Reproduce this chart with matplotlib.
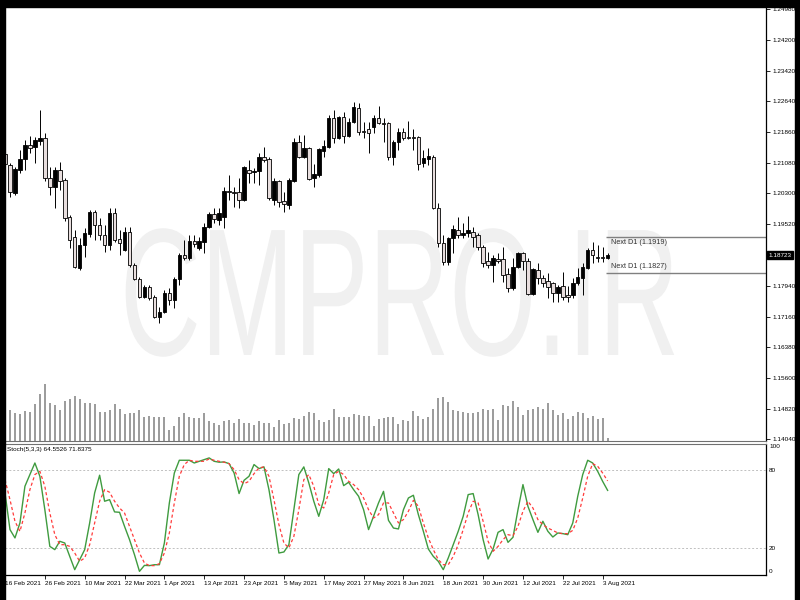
import numpy as np
import pandas as pd
import matplotlib
matplotlib.use('Agg')
import matplotlib.pyplot as plt
from matplotlib import patheffects
from matplotlib.patches import Rectangle
from matplotlib.transforms import Affine2D

plt.rcParams['font.family'] = ['Liberation Sans', 'DejaVu Sans']

# EURUSD diario, 16 Feb 2021 - 4 Aug 2021
apertura = [1.2130, 1.2102, 1.2031, 1.2089, 1.2117, 1.2153, 1.2148, 1.2163, 1.2171, 1.2069,
            1.2046, 1.2089, 1.2064, 1.1970, 1.1919, 1.1840, 1.1898, 1.1926, 1.1982, 1.1949,
            1.1924, 1.1898, 1.1980, 1.1914, 1.1886, 1.1931, 1.1848, 1.1812, 1.1766, 1.1792,
            1.1766, 1.1715, 1.1728, 1.1776, 1.1758, 1.1812, 1.1873, 1.1865, 1.1909, 1.1891,
            1.1906, 1.1944, 1.1977, 1.1962, 1.1970, 1.2036, 1.2033, 1.2033, 1.2013, 1.2089,
            1.2084, 1.2087, 1.2122, 1.2117, 1.2013, 1.2061, 1.2010, 1.2000, 1.2061, 1.2160,
            1.2122, 1.2145, 1.2069, 1.2076, 1.2138, 1.2148, 1.2221, 1.2171, 1.2224, 1.2176,
            1.2211, 1.2247, 1.2188, 1.2193, 1.2199, 1.2221, 1.2209, 1.2209, 1.2122, 1.2160,
            1.2186, 1.2173, 1.2173, 1.2173, 1.2107, 1.2117, 1.2122, 1.1993, 1.1903, 1.1855,
            1.1916, 1.1937, 1.1924, 1.1929, 1.1931, 1.1924, 1.1893, 1.1858, 1.1848, 1.1863,
            1.1863, 1.1825, 1.1789, 1.1842, 1.1878, 1.1858, 1.1774, 1.1835, 1.1814, 1.1807,
            1.1802, 1.1776, 1.1794, 1.1771, 1.1771, 1.1802, 1.1814, 1.1840, 1.1886, 1.1868,
            1.1868, 1.1865]
maximo = [1.2165, 1.2107, 1.2097, 1.2140, 1.2165, 1.2176, 1.2173, 1.2242, 1.2183, 1.2097,
          1.2097, 1.2110, 1.2069, 1.1975, 1.1937, 1.1916, 1.1942, 1.1987, 1.1987, 1.1967,
          1.1949, 1.1993, 1.1993, 1.1937, 1.1944, 1.1944, 1.1853, 1.1817, 1.1797, 1.1797,
          1.1771, 1.1741, 1.1784, 1.1789, 1.1817, 1.1878, 1.1911, 1.1924, 1.1924, 1.1919,
          1.1954, 1.1982, 1.1993, 1.1993, 1.2046, 1.2076, 1.2046, 1.2069, 1.2099, 1.2115,
          1.2094, 1.2132, 1.2148, 1.2122, 1.2069, 1.2064, 1.2033, 1.2069, 1.2171, 1.2178,
          1.2178, 1.2148, 1.2104, 1.2145, 1.2165, 1.2229, 1.2242, 1.2227, 1.2237, 1.2221,
          1.2262, 1.2260, 1.2211, 1.2211, 1.2229, 1.2252, 1.2221, 1.2211, 1.2165, 1.2196,
          1.2196, 1.2214, 1.2193, 1.2176, 1.2140, 1.2145, 1.2127, 1.2005, 1.1924, 1.1919,
          1.1949, 1.1970, 1.1954, 1.1972, 1.1944, 1.1929, 1.1898, 1.1881, 1.1873, 1.1878,
          1.1893, 1.1840, 1.1865, 1.1881, 1.1881, 1.1865, 1.1840, 1.1853, 1.1822, 1.1827,
          1.1804, 1.1797, 1.1830, 1.1794, 1.1814, 1.1840, 1.1853, 1.1891, 1.1906, 1.1898,
          1.1893, 1.1878]
minimo = [1.2100, 1.2020, 1.2026, 1.2082, 1.2089, 1.2132, 1.2107, 1.2153, 1.2061, 1.2026,
          1.1993, 1.2038, 1.1959, 1.1891, 1.1840, 1.1835, 1.1868, 1.1919, 1.1911, 1.1911,
          1.1881, 1.1886, 1.1906, 1.1873, 1.1883, 1.1842, 1.1809, 1.1764, 1.1764, 1.1758,
          1.1713, 1.1700, 1.1725, 1.1746, 1.1738, 1.1797, 1.1860, 1.1860, 1.1893, 1.1886,
          1.1878, 1.1942, 1.1954, 1.1949, 1.1942, 1.2013, 1.1995, 1.1993, 1.2010, 1.2056,
          1.2056, 1.2051, 1.2110, 1.2013, 1.2000, 1.1995, 1.1982, 1.1990, 1.2059, 1.2120,
          1.2120, 1.2064, 1.2046, 1.2071, 1.2122, 1.2145, 1.2158, 1.2168, 1.2158, 1.2173,
          1.2209, 1.2178, 1.2171, 1.2132, 1.2183, 1.2206, 1.2160, 1.2115, 1.2102, 1.2140,
          1.2165, 1.2168, 1.2140, 1.2089, 1.2097, 1.2102, 1.1990, 1.1893, 1.1848, 1.1848,
          1.1878, 1.1916, 1.1916, 1.1919, 1.1893, 1.1886, 1.1842, 1.1840, 1.1804, 1.1853,
          1.1804, 1.1779, 1.1784, 1.1840, 1.1835, 1.1771, 1.1771, 1.1799, 1.1792, 1.1764,
          1.1753, 1.1753, 1.1758, 1.1753, 1.1764, 1.1797, 1.1771, 1.1837, 1.1853, 1.1855,
          1.1855, 1.1863]
cierre = [1.2104, 1.2033, 1.2092, 1.2117, 1.2153, 1.2145, 1.2165, 1.2171, 1.2069, 1.2046,
          1.2089, 1.2061, 1.1967, 1.1911, 1.1842, 1.1898, 1.1929, 1.1982, 1.1949, 1.1924,
          1.1898, 1.1980, 1.1911, 1.1903, 1.1931, 1.1848, 1.1812, 1.1766, 1.1792, 1.1764,
          1.1715, 1.1728, 1.1776, 1.1758, 1.1812, 1.1873, 1.1865, 1.1909, 1.1901, 1.1909,
          1.1944, 1.1977, 1.1965, 1.1980, 1.2036, 1.2033, 1.2031, 1.2013, 1.2097, 1.2082,
          1.2087, 1.2122, 1.2115, 1.2018, 1.2061, 1.2008, 1.2003, 1.2064, 1.2160, 1.2122,
          1.2145, 1.2066, 1.2079, 1.2143, 1.2150, 1.2221, 1.2171, 1.2224, 1.2176, 1.2211,
          1.2249, 1.2186, 1.2186, 1.2183, 1.2221, 1.2209, 1.2206, 1.2122, 1.2160, 1.2186,
          1.2171, 1.2171, 1.2171, 1.2104, 1.2120, 1.2125, 1.1993, 1.1903, 1.1855, 1.1916,
          1.1939, 1.1924, 1.1929, 1.1937, 1.1919, 1.1893, 1.1853, 1.1848, 1.1865, 1.1858,
          1.1822, 1.1789, 1.1842, 1.1878, 1.1858, 1.1774, 1.1837, 1.1814, 1.1802, 1.1792,
          1.1776, 1.1792, 1.1766, 1.1766, 1.1802, 1.1817, 1.1842, 1.1886, 1.1873, 1.1865,
          1.1865, 1.18723]
volumen = [60000, 62000, 56000, 54000, 60000, 58000, 74000, 94000, 114000, 76000,
           72000, 62000, 80000, 84000, 90000, 84000, 76000, 76000, 74000, 58000,
           58000, 62000, 74000, 64000, 54000, 56000, 56000, 62000, 48000, 50000,
           48000, 48000, 48000, 22000, 30000, 48000, 56000, 48000, 46000, 46000,
           56000, 40000, 36000, 32000, 40000, 42000, 36000, 44000, 36000, 36000,
           32000, 40000, 36000, 36000, 28000, 42000, 34000, 36000, 46000, 44000,
           50000, 58000, 56000, 42000, 38000, 42000, 64000, 48000, 48000, 48000,
           54000, 52000, 50000, 50000, 30000, 44000, 46000, 48000, 48000, 34000,
           42000, 40000, 60000, 50000, 44000, 48000, 64000, 86000, 88000, 78000,
           62000, 60000, 58000, 56000, 56000, 58000, 64000, 62000, 64000, 42000,
           72000, 70000, 80000, 68000, 52000, 62000, 64000, 68000, 64000, 76000,
           62000, 52000, 56000, 44000, 50000, 58000, 56000, 46000, 50000, 44000,
           46000, 6000]

# Estocastico (5,3,3): linea principal y senal
stoch_k = [62.6, 34.4, 28.0, 39.5, 67.7, 76.7, 85.6, 75.4, 49.7, 21.5,
           19.0, 25.4, 24.1, 13.8, 3.6, 11.3, 19.0, 39.5, 62.6, 76.2,
           56.2, 57.4, 48.0, 47.7, 36.9, 26.7, 15.1, 2.3, 6.9, 6.7,
           7.4, 7.4, 24.1, 54.9, 77.9, 87.7, 87.7, 87.7, 85.6, 86.9,
           88.2, 89.5, 86.9, 86.2, 86.4, 85.1, 77.9, 62.1, 72.3, 75.4,
           84.4, 81.3, 82.6, 65.1, 42.1, 16.4, 17.2, 22.8, 49.7, 76.7,
           82.6, 70.3, 56.2, 44.6, 57.4, 81.3, 77.4, 81.0, 68.2, 70.8,
           65.1, 60.0, 49.7, 34.4, 44.6, 54.9, 63.8, 41.5, 35.6, 34.9,
           49.7, 58.7, 60.8, 45.9, 33.1, 19.5, 13.8, 10.0, 3.6, 12.6,
           22.8, 33.1, 44.6, 61.3, 62.1, 45.9, 26.7, 11.8, 19.5, 32.3,
           34.4, 24.6, 28.5, 49.7, 69.0, 52.3, 42.1, 32.3, 40.8, 33.1,
           28.7, 31.8, 31.3, 30.5, 39.5, 60.0, 76.7, 87.7, 85.6, 79.2,
           71.5, 64.5526]
stoch_d = [72.8, 57.4, 40.8, 33.0, 47.2, 65.1, 76.7, 79.2, 67.7, 47.2,
           30.5, 22.8, 22.8, 21.5, 16.4, 10.0, 12.6, 22.8, 39.5, 56.2,
           65.1, 63.1, 56.2, 51.0, 47.2, 36.9, 26.7, 16.4, 8.7, 6.7,
           6.7, 8.2, 16.4, 31.8, 54.9, 75.4, 84.4, 87.7, 86.9, 86.9,
           86.9, 88.7, 87.7, 86.9, 86.2, 85.1, 80.5, 72.8, 69.7, 71.5,
           77.4, 81.8, 82.6, 75.4, 57.4, 38.2, 24.1, 20.3, 29.2, 49.7,
           72.8, 76.7, 67.7, 53.6, 51.0, 62.6, 76.7, 79.2, 76.7, 71.5,
           69.0, 65.1, 58.7, 49.7, 43.3, 45.9, 54.9, 54.9, 47.2, 39.5,
           42.1, 48.5, 56.9, 52.3, 39.5, 28.0, 19.0, 11.3, 7.4, 7.4,
           13.8, 22.8, 34.4, 47.2, 56.2, 54.9, 40.8, 25.4, 17.7, 21.5,
           26.7, 30.5, 29.7, 36.9, 48.5, 56.2, 51.0, 42.1, 38.2, 35.6,
           33.8, 31.8, 31.3, 31.3, 33.8, 43.3, 58.7, 75.4, 85.1, 83.1,
           77.9, 71.8375]

niveles_precio = [1.24980, 1.24200, 1.23420, 1.22640, 1.21860, 1.21080, 1.20300,
                  1.19520, 1.17940, 1.17160, 1.16380, 1.15600, 1.14820, 1.14040]
next_d1 = [1.1919, 1.1827]
precio_actual = 1.18723

fechas = pd.bdate_range('2021-02-16', periods=len(apertura))
x = np.arange(len(apertura))
o = np.array(apertura)
h = np.array(maximo)
l = np.array(minimo)
c = np.array(cierre)

fig = plt.figure(figsize=(8, 6), dpi=100, facecolor='white')
izq, ancho = 5 / 800, 761 / 800
ax = fig.add_axes([izq, 159 / 600, ancho, 434 / 600], facecolor='none')
ax_v = fig.add_axes([izq, 159 / 600, ancho, 434 / 600], facecolor='none', sharex=ax)
ax2 = fig.add_axes([izq, 25 / 600, ancho, 131 / 600], facecolor='none', sharex=ax)

# Velas
sube = c >= o
ax.vlines(x, l, h, color='black', lw=0.7, zorder=2)
ax.bar(x, np.maximum(np.abs(c - o), 0.00006), bottom=np.minimum(o, c), width=0.7,
       color=['black' if s else '#e8dede' for s in sube], edgecolor='black',
       linewidth=0.6, zorder=3)

# Volumen
ax_v.vlines(x, 0, volumen, color='#808080', lw=1.1)
ax_v.set_ylim(0, 868000)
ax_v.axis('off')

ax.set_xlim(0.6, 152.8)
ax.set_ylim(1.13997, 1.25038)
ax.yaxis.tick_right()
ax.set_yticks(niveles_precio)
ax.set_yticklabels(['%.5f' % v for v in niveles_precio])
ax.tick_params(axis='y', direction='out', length=3, width=0.6, pad=1.5, labelsize=4.6)
ax.tick_params(axis='x', bottom=False, labelbottom=False)
for s in ['left', 'top']:
    ax.spines[s].set_visible(False)
ax.spines['right'].set_linewidth(0.9)
ax.spines['bottom'].set_color('#707070')

# Lineas Next D1
x_ini = len(apertura) - 1.4
ax.hlines(next_d1, x_ini, ax.get_xlim()[1], color='#808080', lw=1.0)
ax.annotate('Next D1 (%.4f)' % next_d1[0], (x_ini + 1.0, next_d1[0]), xytext=(0, -1.6),
            textcoords='offset points', va='top', ha='left', fontsize=5.2, color='#333333')
ax.annotate('Next D1 (%.4f)' % next_d1[1], (x_ini + 1.0, next_d1[1]), xytext=(0, 2.2),
            textcoords='offset points', va='bottom', ha='left', fontsize=5.2, color='#333333')

# Precio actual
ax.text(1.003, precio_actual, '%.5f' % precio_actual, transform=ax.get_yaxis_transform(),
        color='white', fontsize=4.6, va='center', ha='left',
        bbox=dict(boxstyle='square,pad=0.25', fc='black', ec='black'))

# Estocastico
ax2.axhline(80, color='#c0c0c0', lw=0.7, ls=(0, (2, 2)))
ax2.axhline(20, color='#c0c0c0', lw=0.7, ls=(0, (2, 2)))
ax2.plot(x, stoch_k, color='#3f9b3f', lw=1.0)
ax2.plot(x, stoch_d, color='#ff3b3b', lw=0.9, ls=(0, (2.5, 2)))
ax2.set_ylim(-0.5, 100.2)
ax2.set_yticks([])
ax2.text(0.003, 0.975, 'Stoch(5,3,3) %.4f %.4f' % (stoch_k[-1], stoch_d[-1]),
         transform=ax2.transAxes, va='top', ha='left', fontsize=4.6)
yt = ax2.get_yaxis_transform()
ax2.text(1.004, 100, '100', transform=yt, va='top', ha='left', fontsize=4.6)
ax2.text(1.004, 80, '80', transform=yt, va='center', ha='left', fontsize=4.6)
ax2.text(1.004, 20, '20', transform=yt, va='center', ha='left', fontsize=4.6)
ax2.text(1.004, 0, '0', transform=yt, va='bottom', ha='left', fontsize=4.6)
ax2.spines['left'].set_visible(False)
ax2.spines['top'].set_color('#707070')
ax2.spines['right'].set_linewidth(0.9)
ax2.spines['bottom'].set_linewidth(0.9)

pos = x[::8]
ax2.set_xticks(pos)
ax2.set_xticklabels(['%d %s' % (fechas[i].day, fechas[i].strftime('%b %Y')) for i in pos])
ax2.tick_params(axis='x', direction='out', length=3, width=0.6, pad=1.5, labelsize=4.6)
for t in ax2.get_xticklabels():
    t.set_ha('left')


# Marca de agua: texto real, estirado al dibujar (alto 130 px, ancho 560 px)
class Estirar(patheffects.AbstractPathEffect):
    def __init__(self, sx, sy, cx, cy):
        super().__init__()
        self.sx, self.sy, self.cx, self.cy = sx, sy, cx, cy

    def draw_path(self, renderer, gc, tpath, affine, rgbFace=None):
        t = affine + Affine2D().translate(-self.cx, -self.cy).scale(self.sx, self.sy) \
            .translate(self.cx, self.cy)
        renderer.draw_path(gc, tpath, t, rgbFace)


tam = 70
marca = fig.text(0.5, 1 - 355 / 600, 'CMPRO.IR', fontsize=tam, color='#f0f0f0',
                 ha='center', va='baseline', zorder=-5, family='Liberation Sans')
fig.canvas.draw()
w = marca.get_window_extent(fig.canvas.get_renderer()).width
marca.set_path_effects([Estirar(560 / w, 130.7 / tam, 400, 245)])

# Marco negro
fig.add_artist(Rectangle((0, 0), 5 / 800, 1, transform=fig.transFigure, color='black', zorder=10))
fig.add_artist(Rectangle((795 / 800, 0), 5 / 800, 1, transform=fig.transFigure, color='black', zorder=10))
fig.add_artist(Rectangle((0, 1 - 7 / 600), 1, 7 / 600, transform=fig.transFigure, color='black', zorder=10))

fig.savefig('out.png', dpi=100, facecolor='white')
